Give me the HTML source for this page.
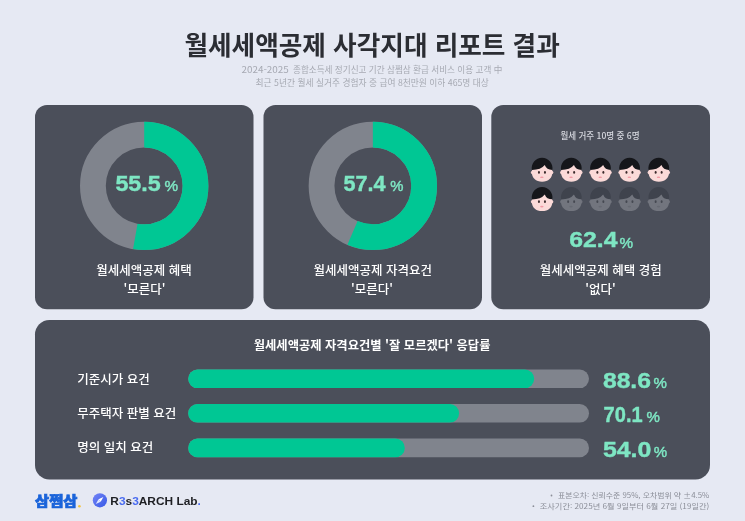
<!DOCTYPE html>
<html lang="ko">
<head>
<meta charset="utf-8">
<title>월세세액공제 사각지대 리포트 결과</title>
<style>
html,body{margin:0;padding:0;background:#e6e9f3;}
body{width:745px;height:521px;overflow:hidden;position:relative;font-family:"Liberation Sans","Noto Sans CJK KR",sans-serif;}
svg{position:absolute;left:0;top:0;display:block;}
text{font-family:"Liberation Sans","Noto Sans CJK KR",sans-serif;}
.ko{font-family:"Noto Sans CJK KR","Liberation Sans",sans-serif;}
.w{fill:#ffffff;}
.lb{font-size:12.5px;font-weight:500;fill:#ffffff;}
.mint{fill:#7ee6c3;}
.num{font-size:21.2px;font-weight:700;fill:#7ee6c3;stroke:#7ee6c3;stroke-width:0.4px;}
.pct{font-size:15.2px;font-weight:400;fill:#7ee6c3;stroke:#7ee6c3;stroke-width:0.45px;}
.fn{font-size:7.4px;fill:#8b8e98;}
</style>
</head>
<body>
<svg width="745" height="521" viewBox="0 0 745 521">
<defs>
  <linearGradient id="cg" x1="0" y1="0" x2="1" y2="1">
    <stop offset="0" stop-color="#7585f6"/>
    <stop offset="1" stop-color="#3558e6"/>
  </linearGradient>
  <g id="face">
    <circle cx="-9.45" cy="2.8" r="1.8" fill="#f9d6d4"/>
    <circle cx="9.45" cy="2.8" r="1.8" fill="#f9d6d4"/>
    <path d="M-10.3 2.4 C-10.3 8.6 -6.3 11.95 0 11.95 C6.3 11.95 10.3 8.6 10.3 2.4 C10.3 -3 5.7 -7 0 -7 C-5.7 -7 -10.3 -3 -10.3 2.4Z" fill="#fbdad8"/>
    <path d="M-10.2 0.4 A10.38 10.38 0 1 1 10.2 0.3 Q4.5 0.3 2.65 -4.6 Q-1 0.2 -10.2 0.4Z" fill="#15161a"/>
    <ellipse cx="-3.15" cy="2.7" rx="1.0" ry="1.35" fill="#3b2a2b"/>
    <ellipse cx="2.85" cy="2.7" rx="1.0" ry="1.35" fill="#3b2a2b"/>
    <ellipse cx="-0.25" cy="7.55" rx="1.7" ry="0.85" fill="#f29aa5"/>
  </g>
  <g id="faceg">
    <circle cx="-9.45" cy="2.8" r="1.8" fill="#70737c"/>
    <circle cx="9.45" cy="2.8" r="1.8" fill="#70737c"/>
    <path d="M-10.3 2.4 C-10.3 8.6 -6.3 11.95 0 11.95 C6.3 11.95 10.3 8.6 10.3 2.4 C10.3 -3 5.7 -7 0 -7 C-5.7 -7 -10.3 -3 -10.3 2.4Z" fill="#72757e"/>
    <path d="M-10.2 0.4 A10.38 10.38 0 1 1 10.2 0.3 Q4.5 0.3 2.65 -4.6 Q-1 0.2 -10.2 0.4Z" fill="#3f434d"/>
    <ellipse cx="-3.15" cy="2.7" rx="1.0" ry="1.35" fill="#454851"/>
    <ellipse cx="2.85" cy="2.7" rx="1.0" ry="1.35" fill="#454851"/>
    <ellipse cx="-0.25" cy="7.55" rx="1.7" ry="0.85" fill="#676a73"/>
  </g>
</defs>
<rect x="0" y="0" width="745" height="521" fill="#e6e9f3"/>

<!-- title -->
<text class="ko" x="372.1" y="54.6" text-anchor="middle" font-size="25.65" font-weight="700" fill="#2b2d33">월세세액공제 사각지대 리포트 결과</text>
<text class="ko" y="73.4" font-size="8.9" fill="#a6a9b2"><tspan x="241.5" textLength="47.3" lengthAdjust="spacingAndGlyphs">2024-2025</tspan><tspan x="290.6" textLength="211.7" lengthAdjust="spacingAndGlyphs"> 종합소득세 정기신고 기간 삼쩜삼 환급 서비스 이용 고객 中</tspan></text>
<text class="ko" x="255.6" y="85.5" textLength="233.3" lengthAdjust="spacingAndGlyphs" font-size="8.9" fill="#a6a9b2">최근 5년간 월세 실거주 경험자 중 급여 8천만원 이하 465명 대상</text>

<!-- cards -->
<rect x="35" y="105" width="218.5" height="204.3" rx="12" fill="#4b4f5a"/>
<rect x="263.5" y="105" width="218.5" height="204.3" rx="12" fill="#4b4f5a"/>
<rect x="491.3" y="105" width="218.7" height="204.3" rx="12" fill="#4b4f5a"/>
<rect x="35" y="320" width="675" height="159.6" rx="14.5" fill="#4b4f5a"/>

<!-- donut 1 -->
<g transform="translate(144.2,185.85)">
<circle r="51.3" fill="none" stroke="#80848d" stroke-width="25.8"/>
<circle r="51.3" fill="none" stroke="#00c794" stroke-width="25.8" stroke-dasharray="169.85 400" transform="rotate(-90)"/>
</g>
<!-- donut 2 -->
<g transform="translate(372.85,185.85)">
<circle r="51.3" fill="none" stroke="#80848d" stroke-width="25.8"/>
<circle r="51.3" fill="none" stroke="#00c794" stroke-width="25.8" stroke-dasharray="181.8 400" transform="rotate(-90)"/>
</g>

<text x="115.4" y="191.1" class="num" textLength="45.4" lengthAdjust="spacingAndGlyphs">55.5</text>
<text x="164.5" y="191.4" class="pct" textLength="13.6" lengthAdjust="spacingAndGlyphs">%</text>
<text x="343.4" y="191.1" class="num" textLength="42.1" lengthAdjust="spacingAndGlyphs">57.4</text>
<text x="390.2" y="191.4" class="pct" textLength="13.2" lengthAdjust="spacingAndGlyphs">%</text>

<text class="ko lb" x="144.1" y="275.3" text-anchor="middle">월세세액공제 혜택</text>
<text class="ko lb" x="144.6" y="293.6" text-anchor="middle">'모른다'</text>
<text class="ko lb" x="372.8" y="275.3" text-anchor="middle">월세세액공제 자격요건</text>
<text class="ko lb" x="372.1" y="293.6" text-anchor="middle">'모른다'</text>
<text class="ko lb" x="600.7" y="275.3" text-anchor="middle">월세세액공제 혜택 경험</text>
<text class="ko lb" x="600.5" y="293.6" text-anchor="middle">'없다'</text>

<!-- card 3 -->
<text class="ko" x="560.4" y="139" textLength="79.2" lengthAdjust="spacingAndGlyphs" font-size="8.9" font-weight="500" fill="#d6d8df">월세 거주 10명 중 6명</text>
<use href="#face" x="542.1" y="169.7"/>
<use href="#face" x="571.3" y="169.7"/>
<use href="#face" x="600.5" y="169.7"/>
<use href="#face" x="629.6" y="169.7"/>
<use href="#face" x="658.8" y="169.7"/>
<use href="#face" x="542.1" y="199"/>
<use href="#faceg" x="571.3" y="199"/>
<use href="#faceg" x="600.5" y="199"/>
<use href="#faceg" x="629.6" y="199"/>
<use href="#faceg" x="658.8" y="199"/>
<text x="569.2" y="247.2" class="num" textLength="48.3" lengthAdjust="spacingAndGlyphs">62.4</text>
<text x="619.4" y="247.5" class="pct" textLength="13.6" lengthAdjust="spacingAndGlyphs">%</text>

<!-- bottom panel -->
<text class="ko w" x="372.1" y="350.2" text-anchor="middle" font-size="12.3" font-weight="700">월세세액공제 자격요건별 '잘 모르겠다' 응답률</text>
<text class="ko lb" x="77.3" y="384">기준시가 요건</text>
<text class="ko lb" x="77.3" y="418.1">무주택자 판별 요건</text>
<text class="ko lb" x="77.3" y="452">명의 일치 요건</text>

<rect x="188.2" y="369.5" width="400.8" height="18.6" rx="9.3" fill="#80848d"/>
<rect x="188.2" y="369.5" width="346" height="18.6" rx="9.3" fill="#00c794"/>
<rect x="188.2" y="404" width="400.8" height="18.6" rx="9.3" fill="#80848d"/>
<rect x="188.2" y="404" width="270.9" height="18.6" rx="9.3" fill="#00c794"/>
<rect x="188.2" y="438.6" width="400.8" height="18.6" rx="9.3" fill="#80848d"/>
<rect x="188.2" y="438.6" width="216.6" height="18.6" rx="9.3" fill="#00c794"/>

<text x="602.9" y="387.5" class="num" textLength="48.1" lengthAdjust="spacingAndGlyphs">88.6</text>
<text x="653.4" y="387.8" class="pct" textLength="13.4" lengthAdjust="spacingAndGlyphs">%</text>
<text x="603.6" y="422.1" class="num" textLength="39" lengthAdjust="spacingAndGlyphs">70.1</text>
<text x="646.4" y="422.4" class="pct" textLength="13.4" lengthAdjust="spacingAndGlyphs">%</text>
<text x="602.9" y="456.7" class="num" textLength="48.5" lengthAdjust="spacingAndGlyphs">54.0</text>
<text x="653.8" y="457" class="pct" textLength="13.4" lengthAdjust="spacingAndGlyphs">%</text>

<!-- footer -->
<text class="ko" x="35.1" y="505.6" font-size="13.8" font-weight="900" fill="#1b64da" stroke="#1b64da" stroke-width="0.7" textLength="42.3" lengthAdjust="spacingAndGlyphs">삼쩜삼</text>
<circle cx="79.4" cy="506.2" r="1.3" fill="#f5c53d"/>
<circle cx="99.9" cy="500.3" r="7.1" fill="url(#cg)"/>
<path d="M103.4 497 L100.7 501.65 L98.5 499.25 Z" fill="#ffffff"/>
<path d="M95.8 503.9 L100.7 501.65 L98.5 499.25 Z" fill="#dfe7ff"/>
<text x="110.3" y="504.5" font-size="11.5" font-weight="700" fill="#1f2024" textLength="90.6" lengthAdjust="spacingAndGlyphs">R<tspan fill="#4a6cf0">3</tspan>s<tspan fill="#4a6cf0">3</tspan>ARCH Lab<tspan fill="#4a6cf0">.</tspan></text>

<circle cx="551.5" cy="495.5" r="0.9" fill="#8b8e98"/>
<text class="ko fn" x="558" y="497.8" textLength="151.3" lengthAdjust="spacingAndGlyphs">표본오차: 신뢰수준 95%, 오차범위 약 ±4.5%</text>
<circle cx="533.4" cy="506.2" r="0.9" fill="#8b8e98"/>
<text class="ko fn" x="539.8" y="508.6" textLength="169.5" lengthAdjust="spacingAndGlyphs">조사기간: 2025년 6월 9일부터 6월 27일 (19일간)</text>
</svg>
</body>
</html>
